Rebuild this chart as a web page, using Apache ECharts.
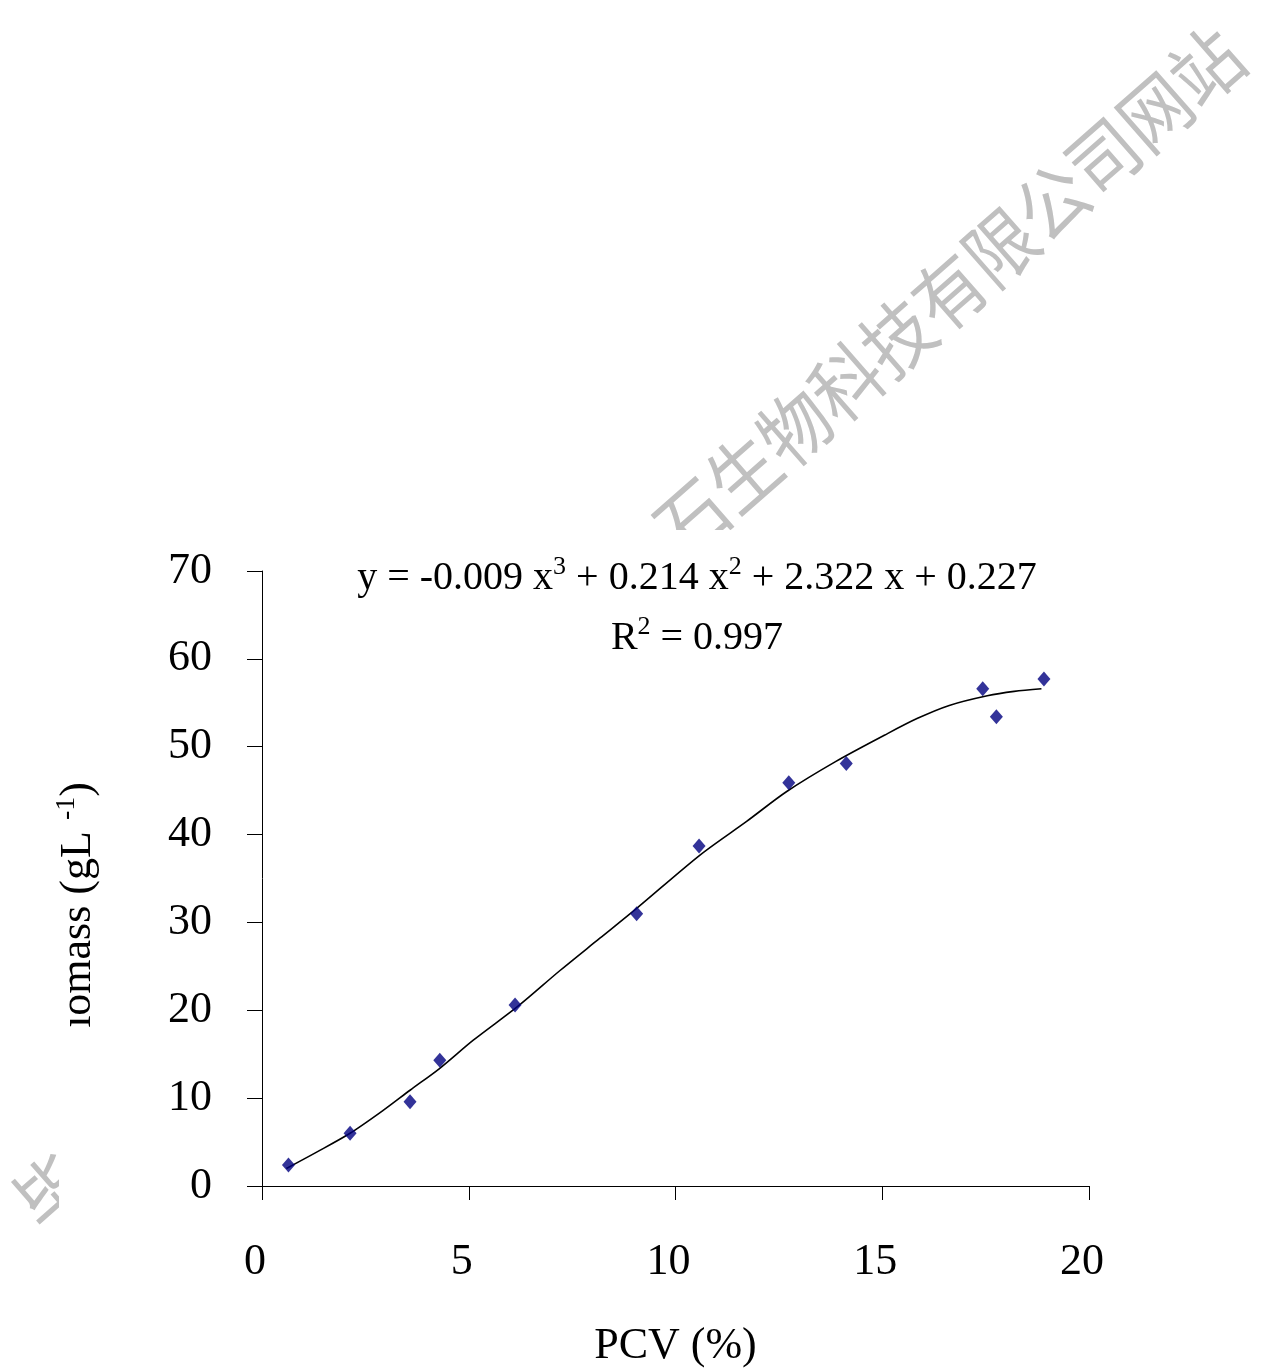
<!DOCTYPE html>
<html>
<head>
<meta charset="utf-8">
<script src="https://cdn.jsdelivr.net/npm/echarts@6/dist/echarts.min.js"></script>
<style>
  html, body { margin: 0; padding: 0; background: #fff; }
  #chart { width: 1265px; height: 1372px; }
</style>
</head>
<body>
<div id="chart"></div>
<script>
// measured points
const pcv = [0.64, 2.13, 3.58, 4.30, 6.12, 9.06, 10.57, 12.74, 14.13, 17.43, 17.76, 18.91];
const biomass = [2.4, 6.0, 9.6, 14.3, 20.6, 31.0, 38.7, 45.9, 48.1, 56.6, 53.4, 57.7];

// trend line
const trendX = [0.59, 1.3, 2.13, 2.93, 3.58, 4.30, 5.11, 6.2, 7.2, 8.17, 9.06, 10.6, 11.72, 12.69, 13.87, 15.05, 15.84, 16.62, 17.54, 18.19, 18.85];
const trendY = [2.0, 3.8, 6.0, 8.6, 10.9, 13.4, 16.6, 20.5, 24.5, 28.2, 31.6, 37.7, 41.5, 44.9, 48.3, 51.3, 53.2, 54.7, 55.8, 56.3, 56.6];

const xTicks = [0, 5, 10, 15, 20];
const yTicks = [0, 10, 20, 30, 40, 50, 60, 70];

const serif = "'Liberation Serif', 'Times New Roman', serif";
const wmFont = "76px 'Noto Sans CJK SC'";
const wmAngle = 0.72;

const eqRich = {
  m: { fontFamily: serif, fontSize: 40, lineHeight: 48, fill: '#000' },
  s: { fontFamily: serif, fontSize: 26, lineHeight: 24, verticalAlign: 'top', fill: '#000' }
};

const chart = echarts.init(document.getElementById('chart'));

const option = {
  backgroundColor: '#fff',
  animation: false,
  grid: { left: 262, right: 176, top: 571, bottom: 186 },
  xAxis: {
    type: 'value',
    min: xTicks[0],
    max: xTicks[xTicks.length - 1],
    interval: 5,
    name: 'PCV (%)',
    nameLocation: 'middle',
    nameGap: 138,
    nameTextStyle: { fontFamily: serif, fontSize: 44, color: '#000' },
    axisLine: { lineStyle: { color: '#000', width: 1 } },
    axisTick: { length: 14, lineStyle: { color: '#000' } },
    axisLabel: { fontFamily: serif, fontSize: 44, color: '#000', margin: 54, padding: [0, 14, 0, 0] },
    splitLine: { show: false }
  },
  yAxis: {
    type: 'value',
    min: yTicks[0],
    max: yTicks[yTicks.length - 1],
    interval: 10,
    axisLine: { show: true, lineStyle: { color: '#000', width: 1 } },
    axisTick: { show: true, length: 15, lineStyle: { color: '#000' } },
    axisLabel: { fontFamily: serif, fontSize: 44, color: '#000', margin: 50 },
    splitLine: { show: false }
  },
  graphic: [
    // watermark, partly hidden behind the chart picture
    { type: 'text', x: 1232, y: 44, rotation: wmAngle, scaleX: 0.9, z: -20,
      style: { text: '石生物科技有限公司网站', font: wmFont, fill: '#c0c0c0', align: 'right', verticalAlign: 'middle' } },
    { type: 'text', x: 52, y: 1192, rotation: wmAngle, scaleX: 0.9, z: -20,
      style: { text: '毕', font: wmFont, fill: '#c0c0c0', align: 'center', verticalAlign: 'middle' } },
    { type: 'rect', z: -10, shape: { x: 59, y: 530, width: 1206, height: 842 }, style: { fill: '#fff' } },
    // y axis title (left edge of picture clipped)
    { type: 'text', x: 78, y: 905, rotation: Math.PI / 2, z: 5,
      style: {
        text: '{m|ıomass (gL }{s|-1}{m|)}',
        align: 'center', verticalAlign: 'middle',
        rich: {
          m: { fontFamily: serif, fontSize: 44, lineHeight: 50, fill: '#000' },
          s: { fontFamily: serif, fontSize: 28, lineHeight: 26, verticalAlign: 'top', fill: '#000' }
        }
      } },
    // trend equation
    { type: 'text', x: 697, y: 578, z: 5,
      style: {
        text: '{m|y = -0.009 x}{s|3}{m| + 0.214 x}{s|2}{m| + 2.322 x + 0.227}',
        align: 'center', verticalAlign: 'middle', rich: eqRich
      } },
    { type: 'text', x: 697, y: 638, z: 5,
      style: {
        text: '{m|R}{s|2}{m| = 0.997}',
        align: 'center', verticalAlign: 'middle', rich: eqRich
      } }
  ],
  series: [
    {
      name: 'trend',
      type: 'line',
      data: trendX.map((x, i) => [x, trendY[i]]),
      smooth: 0.3,
      showSymbol: false,
      lineStyle: { color: '#000', width: 1.6 },
      z: 3
    },
    {
      name: 'biomass',
      type: 'scatter',
      data: pcv.map((x, i) => [x, biomass[i]]),
      symbol: 'diamond',
      symbolSize: [13, 15],
      itemStyle: { color: '#000080' },
      z: 4
    }
  ]
};

chart.setOption(option);
</script>
</body>
</html>
